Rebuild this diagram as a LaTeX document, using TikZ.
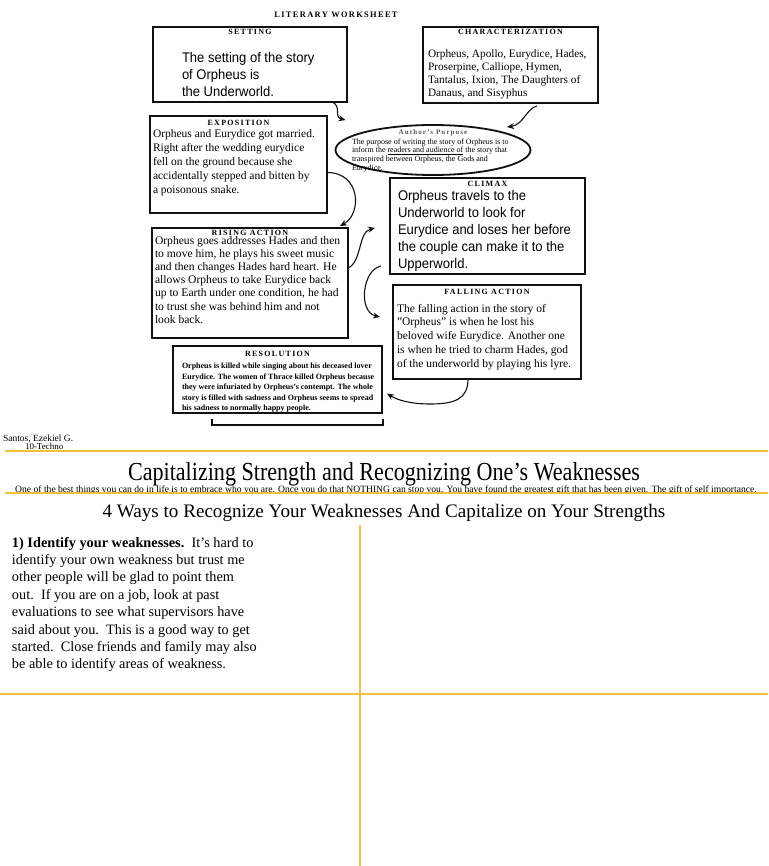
\documentclass[tikz,border=0pt]{standalone}
\usepackage{fontspec}
\setmainfont{Liberation Serif}
\newfontfamily\narrowsans[FakeStretch=0.93]{Liberation Sans}
\newfontfamily\narrowserif[FakeStretch=0.85]{Liberation Serif}
\newfontfamily\capsfont[LetterSpace=16, BoldFont={Liberation Serif Bold}]{Liberation Serif}
\usepackage{xcolor}
\definecolor{InkBlack}{HTML}{111111}
\definecolor{RuleGold}{HTML}{F2C13A}
\definecolor{HeadGray}{HTML}{555555}
\usetikzlibrary{arrows.meta,positioning,shapes.geometric,calc}

\begin{document}
\begin{tikzpicture}[x=1pt, y=-1pt, every node/.style={inner sep=0pt, outer sep=0pt}, card/.style={draw=InkBlack, line width=2.7pt, anchor=north west}, cardhead/.style={anchor=north, font=\capsfont\bfseries\fontsize{8}{8}\selectfont}, cardtext/.style={anchor=north west, align=left, font=\fontsize{11.5}{13.8}\selectfont}, bigtext/.style={anchor=north west, align=left, font=\narrowsans\fontsize{14}{17}\selectfont}, link/.style={-{Stealth[length=7pt, width=6pt]}, line width=1.1pt, InkBlack}, goldrule/.style={RuleGold, line width=1.4pt}]
        \useasboundingbox[fill=white] (0,0) rectangle (768,866);

        \node[font=\capsfont\bfseries\fontsize{8.4}{9}\selectfont] (worksheet) at (336,15) {LITERARY WORKSHEET};

        \node[card, minimum width=194, minimum height=75] (setting) at (153,27) {};
        \node[cardhead] at ($(setting.north)+(0,2)$) {SETTING};
        \node[bigtext] at ($(setting.north west)+(29,25)$) {The setting of the story\\of Orpheus is\\the Underworld.};

        \node[card, minimum width=175, minimum height=76] (cast) at (423,27) {};
        \node[cardhead] at ($(cast.north)+(0,2)$) {CHARACTERIZATION};
        \node[cardtext, font=\fontsize{11.3}{12.9}\selectfont] at ($(cast.north west)+(5,23)$) {Orpheus, Apollo, Eurydice, Hades,\\Proserpine, Calliope, Hymen,\\Tantalus, Ixion, The Daughters of\\Danaus, and Sisyphus};

        \node[card, minimum width=177, minimum height=97] (exposition) at (150,116) {};
        \node[cardhead] at ($(exposition.north)+(0,4)$) {EXPOSITION};
        \node[cardtext, font=\fontsize{11.5}{14}\selectfont] at ($(exposition.north west)+(3,14)$) {Orpheus and Eurydice got married.\\Right after the wedding eurydice\\fell on the ground because she\\accidentally stepped and bitten by\\a poisonous snake.};

        \node[draw=InkBlack, line width=1.8pt, ellipse, minimum width=195, minimum height=50] (purpose) at (433,150) {};
        \node[anchor=north, font=\capsfont\bfseries\fontsize{7}{7}\selectfont, HeadGray] at ($(purpose.north)+(0,5)$) {Author’s Purpose};
        \node[anchor=north west, align=left, font=\fontsize{8}{8.8}\selectfont] at ($(purpose.west)+(16.5,-11.5)$) {The purpose of writing the story of Orpheus is to\\inform the \underline{readers and audience of} the story that\\transpired between Orpheus, the Gods and\\Eurydice.};

        \node[card, minimum width=195, minimum height=96] (climax) at (390,178) {};
        \node[cardhead] at ($(climax.north)+(0,3)$) {CLIMAX};
        \node[bigtext] at ($(climax.north west)+(8,12)$) {Orpheus travels to the\\Underworld to look for\\Eurydice and loses her before\\the couple can make it to the\\Upperworld.};

        \node[card, minimum width=196, minimum height=110] (rising) at (152,228) {};
        \node[cardhead] at ($(rising.north)+(0,2)$) {RISING ACTION};
        \node[cardtext, font=\fontsize{11.6}{13.2}\selectfont] at ($(rising.north west)+(3,8)$) {Orpheus goes addresses Hades and then\\to move him, he plays his sweet music\\and then changes Hades hard heart. He\\allows Orpheus to take Eurydice back\\up to Earth under one condition, he had\\to trust she was behind him and not\\look back.};

        \node[card, minimum width=188, minimum height=94] (falling) at (393,285) {};
        \node[cardhead] at ($(falling.north)+(0,4.5)$) {FALLING ACTION};
        \node[cardtext, font=\fontsize{11.5}{13.8}\selectfont] at ($(falling.north west)+(4,19)$) {The falling action in the story of\\"Orpheus" is when he lost his\\beloved wife Eurydice. Another one\\is when he tried to charm Hades, god\\of the underworld by playing his lyre.};

        \node[card, minimum width=209, minimum height=67] (resolution) at (173,346) {};
        \node[cardhead] at ($(resolution.north)+(0,5)$) {RESOLUTION};
        \node[cardtext, font=\bfseries\fontsize{8}{10.5}\selectfont] at ($(resolution.north west)+(9,17)$) {Orpheus is killed while singing about his deceased lover\\Eurydice. The women of Thrace killed Orpheus because\\they were infuriated by Orpheus’s contempt. The whole\\story is filled with sadness and Orpheus seems to spread\\his sadness to normally happy people.};
        \draw[InkBlack, line width=2pt] (212,419) -- (212,425) -- (383,425) -- (383,419);

        \draw[link] ($(setting.south east)+(-15,0)$) .. controls +(10,4) and +(-12,-3) .. ($(purpose.west)+(10,-30)$);
        \draw[link] ($(cast.south west)+(114,3)$) .. controls +(-10,2) and +(16,-2) .. ($(purpose.north)+(74,2)$);
        \draw[link] ($(exposition.east)+(0,8)$) .. controls +(34,0) and +(22,-12) .. ($(rising.north east)+(-8,-2)$);
        \draw[link] ($(rising.east)+(0,-15)$) .. controls +(14,-6) and +(-17,4) .. ($(climax.west)+(-15,2)$);
        \draw[link] ($(climax.south west)+(-9,-8)$) .. controls +(-19,4) and +(-22,-5) .. ($(falling.west)+(-13,-15)$);
        \draw[link] ($(falling.south)+(-19,0)$) .. controls +(0,20) and +(25,0) .. (430,404) .. controls +(-18,0) and +(11,7) .. ($(resolution.east)+(5,14)$);

        \node[anchor=west, font=\fontsize{9.5}{10}\selectfont] (author) at (3,439) {Santos, Ezekiel G.};
        \node[anchor=west, font=\fontsize{9}{10}\selectfont] (section) at (25,446.5) {10-Techno};
        \draw[goldrule] (5,451) -- (768,451);

        \node[font=\narrowserif\fontsize{26}{28}\selectfont] (title) at (384,474) {Capitalizing Strength and Recognizing One’s Weaknesses};
        \node[font=\fontsize{9.6}{10}\selectfont] (motto) at (386,490) {One of the best things you can do in life is to embrace who you are. Once you do that NOTHING can stop you. You have found the greatest gift that has been given. The gift of self importance.};
        \draw[goldrule] (5,493) -- (768,493);
        \node[font=\fontsize{19.1}{21}\selectfont] (subtitle) at (384,513) {4 Ways to Recognize Your Weaknesses And Capitalize on Your Strengths};

        \draw[goldrule] (360,525) -- (360,866);
        \draw[goldrule] (0,694) -- (768,694);

        \node[anchor=north west, align=left, font=\fontsize{14.3}{17.4}\selectfont] (tipone) at (12,537) {\textbf{1) Identify your weaknesses.}\ \ It’s hard to\\identify your own weakness but trust me\\other people will be glad to point them\\out.\ \ If you are on a job, look at past\\evaluations to see what supervisors have\\said about you.\ \ This is a good way to get\\started.\ \ Close friends and family may also\\be able to identify areas of weakness.};
    \end{tikzpicture}
\end{document}
